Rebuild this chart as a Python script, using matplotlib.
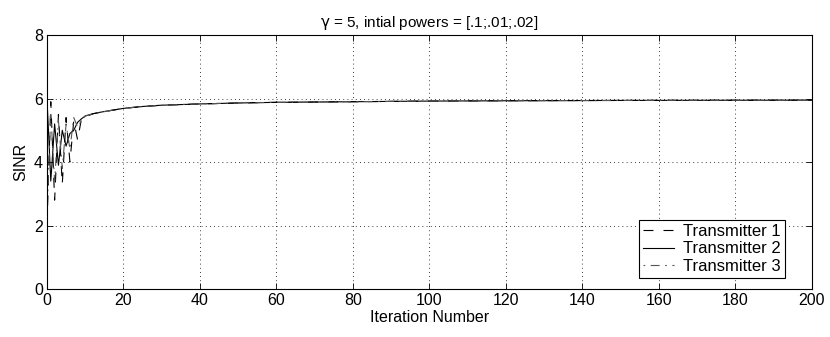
import numpy as np
import matplotlib
matplotlib.use("Agg")
import matplotlib.pyplot as plt

plt.rcParams['font.family'] = ['Liberation Sans', 'DejaVu Sans']
plt.rcParams['font.size'] = 11.5
plt.rcParams['mathtext.fontset'] = 'dejavusans'

iters = [0, 1, 2, 3, 4, 5, 6, 7, 8, 9, 10, 12, 14, 16, 18, 20, 25, 30, 40, 50, 60, 80, 100, 120, 150, 200]

# SINR per transmitter
tx1 = [2.0, 5.9, 2.8, 5.5, 3.3, 5.4, 4.0, 5.3, 4.7, 5.35, 5.42, 5.52, 5.57, 5.61, 5.65, 5.69, 5.75, 5.79, 5.83, 5.86, 5.88, 5.90, 5.92, 5.93, 5.94, 5.95]
tx2 = [6.0, 3.4, 5.2, 3.9, 5.0, 4.5, 4.9, 5.0, 5.25, 5.36, 5.45, 5.52, 5.57, 5.61, 5.65, 5.69, 5.75, 5.79, 5.83, 5.86, 5.88, 5.90, 5.92, 5.93, 5.94, 5.95]
tx3 = [2.4, 5.5, 3.4, 5.3, 3.8, 5.2, 4.4, 5.4, 5.1, 5.3, 5.45, 5.52, 5.57, 5.61, 5.65, 5.69, 5.75, 5.79, 5.83, 5.86, 5.88, 5.90, 5.92, 5.93, 5.94, 5.95]

fig = plt.figure(figsize=(8.3, 3.37), dpi=100)
ax = fig.add_axes([0.0566, 0.1424, 0.9214, 0.7536])

ax.plot(iters, tx1, color='black', lw=0.8, linestyle=(0, (9, 9)), label='Transmitter 1')
ax.plot(iters, tx2, color='black', lw=0.8, linestyle='-', label='Transmitter 2')
ax.plot(iters, tx3, color='#555555', lw=0.8, linestyle=(0, (1.5, 5, 8, 5)), label='Transmitter 3')

ax.set_xlim(0, 200)
ax.set_ylim(0, 8)
ax.set_xticks(np.arange(0, 201, 20))
ax.set_yticks(np.arange(0, 9, 2))
ax.grid(True, color='black', linestyle=(0, (1, 4)), lw=0.6)
ax.tick_params(direction='in', top=True, right=True, length=4, width=0.6, pad=3)
for s in ax.spines.values():
    s.set_linewidth(0.8)

ax.set_xlabel('Iteration Number', labelpad=1)
ax.set_ylabel('SINR', labelpad=4)
ax.set_title(r'$\mathrm{\gamma}$ = 5, intial powers = [.1;.01;.02]', fontsize=11, pad=6)

leg = ax.legend(loc='lower right', bbox_to_anchor=(0.9647, 0.0433), fancybox=False,
                edgecolor='black', framealpha=1, handlelength=1.9, handletextpad=0.5,
                borderpad=0.25, labelspacing=0.15, fontsize=12, borderaxespad=0)
leg.get_frame().set_linewidth(0.8)

fig.savefig('out.png', dpi=100)
